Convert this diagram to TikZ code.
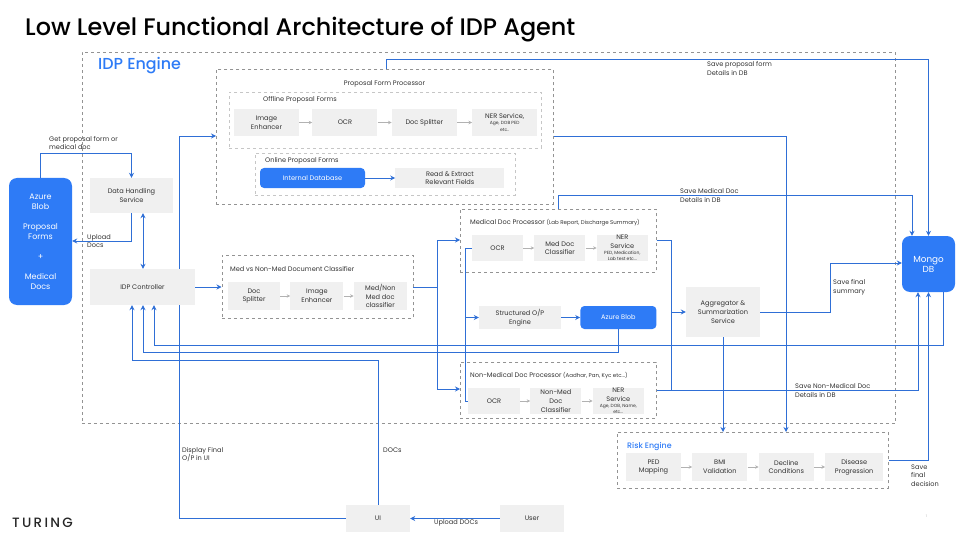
\documentclass[tikz,border=0pt]{standalone}
\usepackage{fontspec}
\usepackage{xcolor}
\setmainfont{Poppins}
\newfontfamily\medfont{Poppins Medium}
\newfontfamily\logofont[LetterSpace=17]{Poppins Medium}
\usetikzlibrary{arrows.meta,positioning}
\definecolor{idpblue}{HTML}{2E7BF6}
\definecolor{linkblue}{HTML}{2F6FD6}
\definecolor{boxgray}{HTML}{F0F0F0}
\definecolor{inkgray}{HTML}{333333}
\newcommand{\smalltxt}{\fontsize{4.5}{6}\selectfont}
\newcommand{\subtxt}{\fontsize{5.5}{6}\selectfont}

\begin{document}
\begin{tikzpicture}[
  x=1pt, y=-1pt,
  every node/.style={text=inkgray, inner sep=0pt, font=\fontsize{6.6}{8.8}\selectfont},
  procbox/.style={fill=boxgray, minimum width=65pt, minimum height=27pt, align=center},
  bluebox/.style={fill=idpblue, text=white, rounded corners=4pt, align=center},
  frame/.style={draw=gray!85, dashed, line width=0.6pt, anchor=north west},
  lbl/.style={anchor=west, align=left},
  link/.style={draw=linkblue, line width=0.85pt},
  flow/.style={link, -{Stealth[length=5pt,width=5pt]}},
  flowboth/.style={link, {Stealth[length=5pt,width=5pt]}-{Stealth[length=5pt,width=5pt]}},
  flowstep/.style={draw=gray!60, line width=0.7pt, -{Stealth[length=3.5pt,width=3.5pt]}},
]
  \useasboundingbox (0,0) rectangle (960,540);

  \node[anchor=west, font=\medfont\fontsize{23.9}{26}\selectfont, text=black] (title) at (25,29.5)
    {Low Level Functional Architecture of IDP Agent};

  % frames
  \node[frame, minimum width=813.5pt, minimum height=371pt] (engine) at (81.5,52) {};
  \node[anchor=west, font=\medfont\fontsize{15.9}{18}\selectfont, text=idpblue] (enginetitle) at (98,65.5)
    {IDP Engine};
  \node[frame, minimum width=337pt, minimum height=135pt] (proposal) at (216,69) {};
  \node (proposaltitle) at (384.5,83.5) {Proposal Form Processor};
  \node[frame, draw=gray!45, minimum width=312pt, minimum height=56pt] (offline) at (229,92) {};
  \node[lbl] (offlinetitle) at (263,99.5) {Offline Proposal Forms};
  \node[frame, draw=gray!45, minimum width=260pt, minimum height=42pt] (online) at (255,153) {};
  \node[lbl] (onlinetitle) at (265,160.5) {Online Proposal Forms};
  \node[frame, minimum width=191pt, minimum height=63pt] (classifier) at (221.5,255) {};
  \node[lbl] (classifiertitle) at (230,269.5) {Med vs Non-Med Document Classifier};
  \node[frame, minimum width=196pt, minimum height=63pt] (medproc) at (460,209) {};
  \node[lbl] (medproctitle) at (470,223) {Medical Doc Processor {\subtxt(Lab Report, Discharge Summary)}};
  \node[frame, minimum width=196pt, minimum height=56pt] (nonmedproc) at (460,362) {};
  \node[lbl] (nonmedproctitle) at (470,376) {Non-Medical Doc Processor {\subtxt(Aadhar, Pan, Kyc etc...)}};
  \node[frame, minimum width=271pt, minimum height=56pt] (risk) at (617,432) {};
  \node[lbl, font=\medfont\fontsize{7.9}{9}\selectfont, text=idpblue] (risktitle) at (627,447) {Risk Engine};

  % offline row
  \node[procbox] (offenh) at (266.5,122.5) {Image\\Enhancer};
  \node[procbox, right=13pt of offenh] (offocr) {OCR};
  \node[procbox, right=14pt of offocr] (offsplit) {Doc Splitter};
  \node[procbox, right=15pt of offsplit] (offner) {NER Service,\\[-2.5pt]{\smalltxt Age, DOB PED}\\[-2.5pt]{\smalltxt etc..}};

  % online row
  \node[bluebox, minimum width=105pt, minimum height=20pt] (internaldb) at (312.5,178) {Internal Database};
  \node[procbox, minimum width=109pt, minimum height=20pt, right=30pt of internaldb] (readfields)
    {Read \& Extract\\Relevant Fields};

  % classifier row
  \node[procbox, minimum width=52pt, minimum height=28pt] (clssplit) at (254,296) {Doc\\Splitter};
  \node[procbox, minimum width=53pt, minimum height=28pt, right=10pt of clssplit] (clsenh) {Image\\Enhancer};
  \node[procbox, minimum width=53pt, minimum height=28pt, right=10pt of clsenh] (clsmed) {Med/Non\\Med doc\\classifier};

  % medical row
  \node[procbox, minimum width=51pt, minimum height=26pt] (medocr) at (497.5,248) {OCR};
  \node[procbox, minimum width=51pt, minimum height=26pt, right=11pt of medocr] (medcls) {Med Doc\\Classifier};
  \node[procbox, minimum width=51pt, minimum height=26pt, right=11pt of medcls] (medner)
    {NER\\Service\\[-2.5pt]{\smalltxt PED, Medication,}\\[-2.5pt]{\smalltxt Lab test etc...}};

  % structured row
  \node[procbox, minimum width=82pt, minimum height=23pt] (structured) at (520,317.5) {Structured O/P\\Engine};
  \node[bluebox, minimum width=76pt, minimum height=23pt, right=19pt of structured] (blob) {Azure Blob};

  % non-medical row
  \node[procbox, minimum width=52pt, minimum height=26pt] (nonocr) at (494,401) {OCR};
  \node[procbox, minimum width=51pt, minimum height=26pt, right=10pt of nonocr] (noncls) {Non-Med\\Doc\\Classifier};
  \node[procbox, minimum width=51pt, minimum height=26pt, right=11pt of noncls] (nonner)
    {NER\\Service\\[-2.5pt]{\smalltxt Age, DOB, Name,}\\[-2.5pt]{\smalltxt etc...}};

  % risk row
  \node[procbox, minimum width=55pt, minimum height=28pt] (ped) at (653.5,467) {PED\\Mapping};
  \node[procbox, minimum width=55pt, minimum height=28pt, right=11pt of ped] (bmi) {BMI\\Validation};
  \node[procbox, minimum width=55pt, minimum height=28pt, right=11pt of bmi] (decline) {Decline\\Conditions};
  \node[procbox, minimum width=58pt, minimum height=28pt, right=11pt of decline] (disease) {Disease\\Progression};

  % outer blocks
  \node[bluebox, rounded corners=8pt, minimum width=63pt, minimum height=127pt, font=\fontsize{8}{10}\selectfont] (azure) at (40.5,241.5)
    {Azure\\Blob\\[10pt]Proposal\\Forms\\[10pt]+\\[10pt]Medical\\Docs};
  \node[procbox, minimum width=83pt, minimum height=35pt] (datahandling) at (131.5,195.5) {Data Handling\\Service};
  \node[procbox, minimum width=105pt, minimum height=36pt] (controller) at (142.5,287) {IDP Controller};
  \node[procbox, minimum width=74pt, minimum height=50pt] (aggregator) at (723,312) {Aggregator \&\\Summarization\\Service};
  \node[bluebox, rounded corners=8pt, minimum width=53pt, minimum height=56pt, font=\fontsize{8.8}{10}\selectfont] (mongo) at (928.5,264)
    {Mongo\\DB};
  \node[procbox, minimum width=64pt, minimum height=27pt] (ui) at (378,518.5) {UI};
  \node[procbox, minimum width=64pt, minimum height=27pt] (user) at (532,518.5) {User};

  \node[anchor=west, font=\logofont\fontsize{13.5}{15}\selectfont, text=black!85] (turing) at (12,522.5) {TURING};
  \node[font=\fontsize{3.5}{4}\selectfont, text=gray!60] (pagenum) at (926.5,516) {1};

  % grey steps
  \draw[flowstep] (offenh) -- (offocr);
  \draw[flowstep] (offocr) -- (offsplit);
  \draw[flowstep] (offsplit) -- (offner);
  \draw[flowstep] (clssplit) -- (clsenh);
  \draw[flowstep] (clsenh) -- (clsmed);
  \draw[flowstep] (medocr) -- (medcls);
  \draw[flowstep] (medcls) -- (medner);
  \draw[flowstep] (nonocr) -- (noncls);
  \draw[flowstep] (noncls) -- (nonner);
  \draw[flowstep] (ped) -- (bmi);
  \draw[flowstep] (bmi) -- (decline);
  \draw[flowstep] (decline) -- (disease);

  % left side links
  \draw[flow] (azure.north) |- (131.5,153) -- (datahandling.north);
  \draw[flow] (datahandling.south) |- (azure.east |- 0,241);
  \draw[flowboth] (controller.north -| 143,0) -- (datahandling.south -| 143,0);
  \draw[flow] (controller.north -| 179,0) |- (proposal.west |- 0,136);
  \draw[link] (ui.west) -| (controller.south -| 179,0);
  \draw[flow] (controller.east) -- (classifier.west |- controller.east);

  % classifier to processors
  \coordinate (split) at (437,287);
  \draw[link] (classifier.east |- split) -- (split);
  \draw[flow] (split) |- (medproc.west |- 0,240);
  \draw[flow] (split) |- (nonmedproc.west |- 0,389);
  \draw[link] (medocr.west) -- ++(-6,0) |- (nonocr.west);
  \draw[flow] (466,317.5) -- (structured.west);
  \draw[flow] (structured) -- (blob);
  \draw[flow] (internaldb) -- (readfields);

  % results back to the controller
  \draw[flow] ([xshift=14.5pt]mongo.south) |- (154,345) -- (controller.south -| 154,0);
  \draw[flow] (blob.south) |- (143,352) -- (controller.south -| 143,0);
  \draw[flow] (ui.north) |- (132,360) -- (controller.south -| 132,0);

  % to the aggregator and the database
  \coordinate (medout) at (671,240);
  \draw[link] (medproc.east |- medout) -- (medout) -- (671,390);
  \draw[flow] (671,312) -- (aggregator.west);
  \draw[flow] (nonmedproc.east |- 0,390) -- (918,390) -- (mongo.south -| 918,0);
  \draw[flow] (medproc.north -| 558,0) |- (912,195) -- (mongo.north -| 912,0);
  \draw[flow] ([xshift=1.5pt]proposal.north) |- (928.5,59) -- (mongo.north);
  \draw[flow] (proposal.east |- 0,136) -| (risk.north -| 786,0);
  \draw[flow] (aggregator.south) -- (risk.north -| aggregator.south);
  \draw[link] (aggregator.east) -| (830,263);
  \draw[flow] (830,263) -- (mongo.west |- 0,263);
  \draw[flow] (risk.east |- 0,460) -| (mongo.south);
  \draw[flow] (user) -- (ui);

  % link labels
  \node[lbl] (getlbl) at (49,143) {Get proposal form or\\medical doc};
  \node[lbl] (uploadlbl) at (87,241) {Upload\\Docs};
  \node[lbl] (savepropl) at (707,68.5) {Save proposal form\\Details in DB};
  \node[lbl] (savemedl) at (680,195.5) {Save Medical Doc\\Details in DB};
  \node[lbl] (savesuml) at (833,287) {Save final\\summary};
  \node[lbl] (savenonl) at (795,390.5) {Save Non-Medical Doc\\Details in DB};
  \node[lbl] (savedecl) at (911,475.5) {Save\\final\\decision};
  \node[lbl] (displayl) at (182,454.5) {Display Final\\O/P in UI};
  \node[lbl] (docsl) at (383,450.5) {DOCs};
  \node[lbl] (uploaddocsl) at (434,522.5) {Upload DOCs};
\end{tikzpicture}
\end{document}
